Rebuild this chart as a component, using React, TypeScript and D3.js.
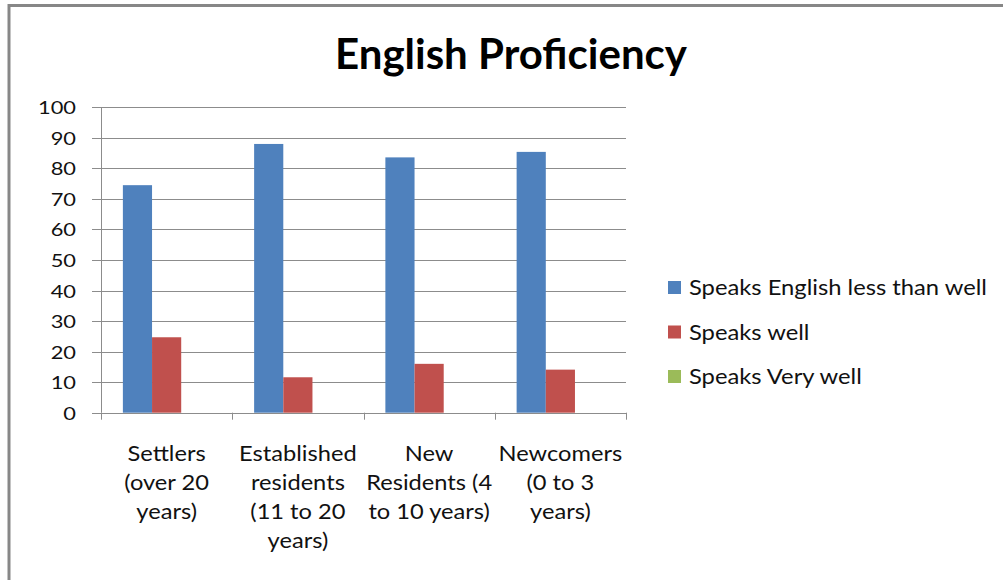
import React from 'react';
import * as d3 from 'd3';

// chart values
const categories = ['Settlers', 'Established', 'New', 'Newcomers'];
const categoryLines = [
  ['Settlers', '(over 20', 'years)'],
  ['Established', 'residents', '(11 to 20', 'years)'],
  ['New', 'Residents (4', 'to 10 years)'],
  ['Newcomers', '(0 to 3', 'years)'],
];
const seriesNames = ['Speaks English less than well', 'Speaks well', 'Speaks Very well'];
const lessThanWell = [74.5, 88, 83.6, 85.4];
const speaksWell = [24.7, 11.6, 16.0, 14.1];
const veryWell = [0, 0, 0, 0];
const yTicks = [0, 10, 20, 30, 40, 50, 60, 70, 80, 90, 100];
const colors = ['#4F81BD', '#C0504D', '#9BBB59'];

const W = 1003, H = 580;
const plot = { left: 101, right: 626, top: 107.3, bottom: 412.7 };
const font = 'Lato, "Open Sans", sans-serif';
const grid = '#8c8c8c';

export default function App() {
  const series = [lessThanWell, speaksWell, veryWell];

  const x = d3.scaleBand<string>()
    .domain(categories)
    .range([plot.left, plot.right])
    .paddingInner(1 / 3)
    .paddingOuter(1 / 6);
  const x1 = d3.scaleBand<number>()
    .domain(d3.range(series.length))
    .range([0, x.bandwidth()]);
  const y = d3.scaleLinear().domain([0, 100]).range([plot.bottom, plot.top]);

  // boundaries between categories, where the x ticks go
  const bounds = categories.map(c => (x(c) as number) - x.step() * x.paddingInner() / 2);
  bounds.push(plot.right);

  return (
    <svg width={W} height={H} style={{ position: 'fixed', left: 0, top: 0, background: '#fff' }}>
      <rect x={0} y={0} width={W} height={H} fill="#fff" />
      {/* chart frame */}
      <path d={`M9,${H + 5} V5.5 H${W + 5}`} fill="none" stroke="#878787" strokeWidth={3} />

      <text x={511} y={69.3} textAnchor="middle" fontFamily={font} fontWeight="bold" fontSize={42} fill="#000">
        English Proficiency
      </text>

      {/* gridlines and y axis */}
      {yTicks.map(t => (
        <g key={t}>
          <line x1={plot.left - 9} x2={plot.right} y1={Math.round(y(t)) + 0.5} y2={Math.round(y(t)) + 0.5} stroke={grid} strokeWidth={1} />
          <g transform={`translate(76,${y(t) + 7}) scale(1.25,1)`}>
            <text x={0} y={0} textAnchor="end" fontFamily={font} fontSize={17.5} fill="#111">{t}</text>
          </g>
        </g>
      ))}
      <line x1={plot.left + 0.5} x2={plot.left + 0.5} y1={plot.top} y2={plot.bottom} stroke={grid} />

      {/* bars */}
      {series.map((vals, si) => (
        <g key={si}>
          {categories.map((c, ci) => vals[ci] > 0 ? (
            <rect key={c}
              x={(x(c) as number) + (x1(si) as number)}
              y={y(vals[ci])}
              width={x1.bandwidth()}
              height={y(0) - y(vals[ci])}
              fill={colors[si]} />
          ) : null)}
        </g>
      ))}

      {/* x axis */}
      <line x1={plot.left} x2={plot.right} y1={Math.round(y(0)) + 0.5} y2={Math.round(y(0)) + 0.5} stroke={grid} />
      {bounds.map((b, i) => (
        <line key={i} x1={Math.round(b) + 0.5} x2={Math.round(b) + 0.5} y1={y(0)} y2={y(0) + 7} stroke={grid} />
      ))}
      {categories.map((c, ci) => (
        <g key={c} transform={`translate(${(x(c) as number) + x.bandwidth() / 2},0)`}>
          {categoryLines[ci].map((ln, li) => (
            <g key={li} transform={`translate(0,${460.5 + li * 29.3}) scale(1.1,1)`}>
              <text x={0} y={0} textAnchor="middle" fontFamily={font} fontSize={21.5} fill="#111">{ln}</text>
            </g>
          ))}
        </g>
      ))}

      {/* legend */}
      {seriesNames.map((s, i) => (
        <g key={s} transform={`translate(668,${287.5 + i * 44.5})`}>
          <rect x={0} y={-6.5} width={13} height={13} fill={colors[i]} />
          <g transform="translate(21,7.5) scale(1.08,1)">
            <text x={0} y={0} fontFamily={font} fontSize={22} fill="#111">{s}</text>
          </g>
        </g>
      ))}
    </svg>
  );
}
